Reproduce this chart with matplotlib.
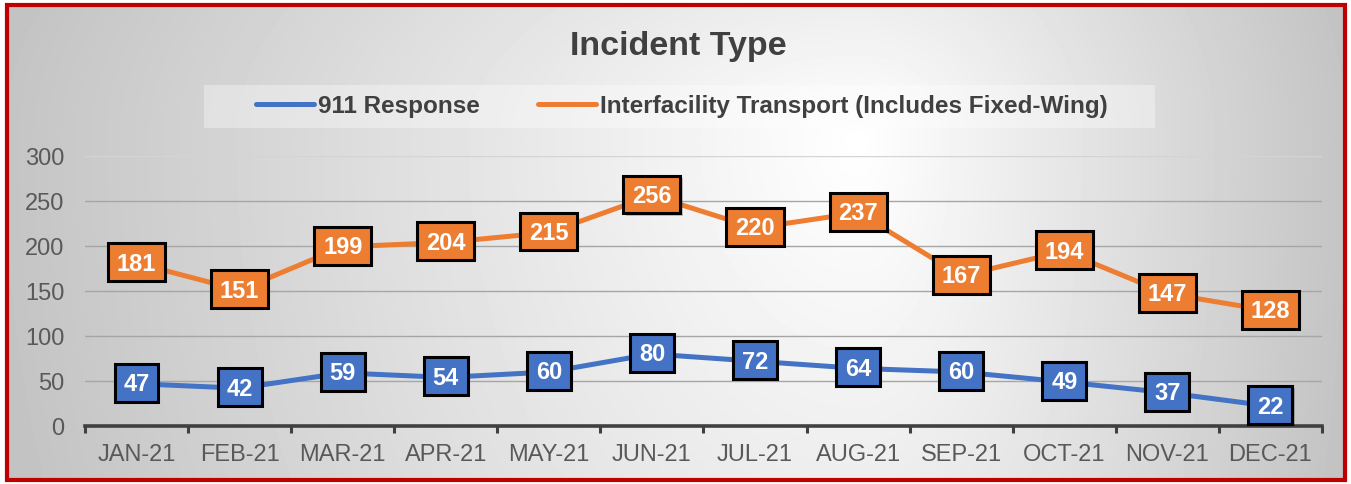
import matplotlib
matplotlib.use('Agg')
import matplotlib.pyplot as plt
import numpy as np
from matplotlib.path import Path
from matplotlib.patches import Rectangle
import matplotlib.patheffects as pe

# ---------------- data ----------------
months = ['JAN-21', 'FEB-21', 'MAR-21', 'APR-21', 'MAY-21', 'JUN-21',
          'JUL-21', 'AUG-21', 'SEP-21', 'OCT-21', 'NOV-21', 'DEC-21']
response_911 = [47, 42, 59, 54, 60, 80, 72, 64, 60, 49, 37, 22]
interfacility = [181, 151, 199, 204, 215, 256, 220, 237, 167, 194, 147, 128]
series_names = ['911 Response', 'Interfacility Transport (Includes Fixed-Wing)']
y_ticks = [0, 50, 100, 150, 200, 250, 300]
title = 'Incident Type'

BLUE = '#4472C4'
ORANGE = '#ED7D31'
DARK = '#404040'

plt.rcParams['font.family'] = ['Liberation Sans', 'DejaVu Sans']

W, H = 1351, 485
fig = plt.figure(figsize=(W / 100, H / 100), dpi=100)
fig.patch.set_facecolor('white')

# ---------------- background gradient + border ----------------
bg = fig.add_axes([0, 0, 1, 1], zorder=0)
bg.set_xlim(0, W)
bg.set_ylim(H, 0)
bg.axis('off')
X, Y = np.meshgrid(np.arange(W) + 0.5, np.arange(H) + 0.5)
cx, cy = 860, 140
dx = np.where(X < cx, (cx - X) / (cx - 6), (X - cx) / (W - 6 - cx))
dy = np.where(Y < cy, (cy - Y) / (cy - 6), (Y - cy) / (H - 6 - cy))
d = np.sqrt(dx ** 2 + (0.3 * dy) ** 2)
g = 1 - 0.23 * np.clip(d, 0, 1.2)
inside = (X > 6) & (X < W - 5) & (Y > 5) & (Y < H - 3)
g = np.where(inside, g, 1.0)
bg.imshow(g, cmap='gray', vmin=0, vmax=1, extent=(0, W, H, 0), aspect='auto',
          interpolation='bilinear')
bg.add_patch(Rectangle((6.5, 6), W - 13, H - 10.5, fill=False,
                       edgecolor='#C00000', lw=3))
# legend band
bg.add_patch(Rectangle((204, 86), 951, 43, facecolor='white', alpha=0.35,
                       edgecolor='none'))

# ---------------- main axes ----------------
ax = fig.add_axes([85 / W, 1 - 427 / H, (1322 - 85) / W, (427 - 157) / H], zorder=1)
ax.patch.set_alpha(0)
x = np.arange(len(months))

l1, = ax.plot(x, response_911, color=BLUE, lw=3.6, solid_capstyle='round', zorder=3)
l2, = ax.plot(x, interfacility, color=ORANGE, lw=3.6, solid_capstyle='round', zorder=3)


def label_box(x0, y0, width, height, mutation_size):
    px = 0.37 * mutation_size
    pt = 0.36 * mutation_size
    pb = 0.27 * mutation_size
    xa, xb = x0 - px, x0 + width + px
    ya, yb = y0 - pb, y0 + height + pt
    return Path([(xa, ya), (xb, ya), (xb, yb), (xa, yb), (xa, ya)], closed=True)


for vals, col in ((response_911, BLUE), (interfacility, ORANGE)):
    for xi, v in zip(x, vals):
        t = ax.text(xi, v, str(v), ha='center', va='center', fontsize=17,
                    fontweight='bold', color='white', zorder=6, clip_on=False,
                    bbox=dict(boxstyle=label_box, facecolor=col, edgecolor='black',
                              linewidth=2.2))
        t.get_bbox_patch().set_path_effects([
            pe.SimplePatchShadow(offset=(1.5, -1.5), shadow_rgbFace='black', alpha=0.2),
            pe.Normal()])

ax.set_xlim(-0.5, len(months) - 0.5)
ax.set_ylim(0, 300)
ax.set_yticks(y_ticks)
ax.tick_params(axis='y', length=0, pad=15, labelsize=17, labelcolor='#595959')

ax.set_xticks(np.arange(-0.5, len(months), 1))
ax.set_xticklabels([])
ax.set_xticks(x, minor=True)
ax.set_xticklabels(months, minor=True)
ax.tick_params(axis='x', which='major', length=5, width=2.2, color=DARK, direction='out')
ax.tick_params(axis='x', which='minor', length=0, pad=12, labelsize=17, labelcolor='#595959')

for s in ('left', 'right', 'top'):
    ax.spines[s].set_visible(False)
ax.spines['bottom'].set_color(DARK)
ax.spines['bottom'].set_linewidth(2.6)
ax.spines['bottom'].set_zorder(4)

ax.grid(axis='y', color='#a6a6a6', lw=1.0, zorder=1)
ax.set_axisbelow(True)
gl = ax.get_ygridlines()
gl[-1].set_color('#d4d4d4')

# ---------------- title & legend ----------------
fig.text(678 / W, 1 - 47 / H, title, ha='center', va='center', fontsize=24.5,
         fontweight='bold', color=DARK)
fig.legend([l1, l2], series_names, loc='center', bbox_to_anchor=(681.5 / W, 1 - 107 / H),
           ncol=2, frameon=False, prop={'size': 17.5, 'weight': 'bold'},
           handlelength=2.4, handletextpad=0.15, columnspacing=2.4, labelcolor=DARK,
           borderpad=0, borderaxespad=0)

fig.savefig('out.png', dpi=100)
